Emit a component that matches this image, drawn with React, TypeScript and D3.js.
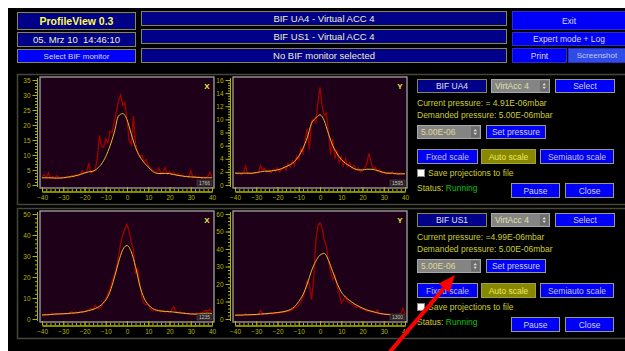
import { useEffect, useRef } from 'react'
import * as d3 from 'd3'

// sample grid of the profiles
const rawX = d3.range(-40, 41, 1)
const fitX = d3.range(-40, 41, 2)

// BIF UA4 - X projection (raw + fit)
const ua4RawX = [
  2.8, 3.4, 2.4, 4.0, 2.2, 2.9, 2.3, 3.1, 2.5, 2.2,
  2.6, 2.4, 2.9, 2.6, 3.2, 2.8, 3.4, 3.0, 3.6, 4.8,
  3.9, 4.2, 7.3, 4.0, 4.5, 5.2, 8.5, 16.5, 13.0, 12.5,
  15.5, 14.0, 18.0, 17.5, 21.0, 24.5, 28.0, 30.0, 26.5, 27.5,
  22.0, 15.0, 13.5, 23.0, 14.0, 11.0, 9.5, 10.0, 7.8, 8.5,
  6.5, 5.8, 5.0, 4.5, 4.2, 5.6, 3.8, 4.4, 5.7, 3.6,
  4.5, 3.5, 4.2, 3.4, 3.8, 3.1, 3.3, 2.7, 3.0, 2.6,
  4.8, 2.5, 3.0, 2.4, 2.8, 2.2, 2.7, 2.4, 2.9, 4.2,
  2.5,
]
const ua4FitX = [
  2.4, 2.4, 2.4, 2.3, 2.3, 2.4, 2.6, 2.8, 3.1, 3.5,
  4.0, 4.4, 4.6, 5.5, 7.0, 9.5, 13.0, 17.5, 23.0, 23.8,
  21.8, 17.0, 12.5, 9.5, 7.5, 6.0, 4.6, 3.9, 3.8, 3.9,
  3.8, 3.5, 3.2, 3.0, 2.8, 2.7, 2.6, 2.5, 2.4, 2.4,
  2.4,
]

// BIF UA4 - Y projection
const ua4RawY = [
  1.9, 1.7, 1.8, 1.6, 1.9, 2.9, 1.7, 1.8, 1.7, 1.9,
  1.8, 1.9, 3.0, 2.2, 2.5, 2.0, 2.3, 1.9, 2.4, 2.1,
  2.6, 2.0, 2.4, 2.8, 2.3, 3.3, 2.7, 3.6, 3.0, 4.4,
  3.8, 5.5, 4.8, 6.8, 8.6, 5.4, 9.8, 10.0, 9.5, 12.4,
  14.9, 12.0, 10.5, 11.0, 8.0, 4.6, 7.0, 4.0, 5.3, 3.4,
  4.3, 3.0, 4.0, 2.8, 3.4, 2.6, 3.0, 2.3, 2.6, 2.0,
  2.2, 2.5, 3.2, 4.8, 3.5, 2.4, 2.7, 2.1, 2.3, 1.8,
  2.0, 1.7, 1.9, 1.8, 2.0, 1.7, 1.9, 1.6, 1.8, 1.7,
  1.8,
]
const ua4FitY = [
  1.8, 1.8, 1.8, 1.8, 1.8, 1.9, 2.0, 2.1, 2.1, 2.2,
  2.3, 2.5, 2.8, 3.1, 3.6, 4.4, 5.6, 7.2, 9.4, 10.2,
  10.7, 9.8, 7.8, 6.0, 4.8, 3.9, 3.3, 2.9, 2.5, 2.3,
  2.3, 2.4, 2.4, 2.3, 2.1, 1.9, 1.8, 1.8, 1.7, 1.7,
  1.7,
]

// BIF US1 - X projection
const us1RawX = [
  2.0, 1.9, 2.2, 2.0, 2.4, 2.8, 2.3, 2.6, 2.4, 2.5,
  2.3, 2.7, 2.5, 3.0, 3.4, 2.8, 3.3, 3.0, 3.6, 3.2,
  3.6, 4.0, 4.4, 5.0, 4.2, 6.6, 5.4, 4.8, 6.0, 8.0,
  9.5, 12.0, 14.5, 18.0, 21.0, 24.0, 30.0, 36.0, 40.0, 43.0,
  45.0, 42.0, 36.5, 33.0, 21.5, 24.0, 17.0, 10.5, 7.5, 6.8,
  7.0, 5.0, 4.0, 4.5, 3.6, 4.2, 3.5, 4.0, 3.3, 3.8,
  3.0, 4.5, 5.8, 3.6, 3.2, 3.4, 2.8, 3.0, 2.5, 2.7,
  2.3, 2.6, 2.4, 2.9, 2.6, 3.0, 3.3, 4.2, 3.7, 4.5,
  3.0,
]
const us1FitX = [
  1.9, 2.0, 2.1, 2.3, 2.4, 2.5, 2.6, 2.8, 2.9, 3.2,
  3.5, 4.0, 4.6, 5.4, 6.8, 9.0, 13.0, 19.5, 27.0, 33.0,
  35.0, 32.0, 25.0, 16.0, 10.0, 6.8, 5.0, 4.2, 3.8, 3.6,
  3.5, 3.3, 3.0, 2.8, 2.6, 2.4, 2.3, 2.4, 2.6, 2.8,
  2.6,
]

// BIF US1 - Y projection
const us1RawY = [
  2.2, 2.0, 2.3, 2.1, 2.4, 3.0, 2.2, 2.5, 2.3, 2.6,
  2.4, 2.8, 5.0, 2.7, 3.0, 2.6, 3.2, 3.4, 2.9, 3.6,
  3.3, 3.5, 4.0, 3.8, 4.4, 4.2, 4.8, 5.2, 6.2, 7.0,
  8.0, 9.5, 12.5, 16.0, 22.0, 20.0, 11.0, 22.0, 44.0, 53.5,
  55.0, 52.0, 45.0, 42.0, 33.0, 27.0, 22.5, 25.0, 19.0, 15.0,
  9.0, 11.0, 13.0, 10.0, 9.0, 8.5, 8.0, 6.5, 7.5, 6.0,
  5.8, 5.5, 4.6, 4.8, 4.0, 4.5, 3.6, 5.2, 3.2, 3.0,
  2.8, 2.6, 2.7, 2.5, 2.7, 2.4, 2.8, 2.5, 3.0, 6.0,
  3.0,
]
const us1FitY = [
  2.2, 2.2, 2.3, 2.4, 2.5, 2.6, 2.8, 3.0, 3.2, 3.4,
  3.7, 4.0, 4.5, 5.4, 7.0, 10.0, 14.0, 20.0, 27.5, 33.0,
  36.5, 37.5, 33.5, 27.0, 20.5, 15.5, 12.5, 10.5, 8.8, 7.4,
  6.2, 5.2, 4.5, 3.8, 3.2, 2.8, 2.6, 2.4, 2.3, 2.2,
  2.2,
]

const xTickValues = [-40, -30, -20, -10, 0, 10, 20, 30, 40]
const plotNames = ['X', 'Y', 'X', 'Y']
const yMaxes = [35, 16, 50, 60]
const yTickSteps = [5, 2, 10, 10]
const sampleCounts = ['1766', '1595', '1235', '1300']

const headerLeft = ['ProfileView 0.3', '05. Mrz 10  14:46:10', 'Select BIF monitor']
const headerMiddle = ['BIF UA4 - Virtual ACC 4', 'BIF US1 - Virtual ACC 4', 'No BIF monitor selected']
const monitors = ['BIF UA4', 'BIF US1']
const currentPressures = ['Current pressure: = 4.91E-06mbar', 'Current pressure: =4.99E-06mbar']
const demandedPressure = 'Demanded pressure: 5.00E-06mbar'
const pressureSetting = '5.00E-06'
const accelerator = 'VirtAcc 4'

const FONT = '"Liberation Sans", Arial, sans-serif'
const NAVY = '#000088'
const BLUE = '#0000f8'
const OLIVE_TXT = '#cccc30'

export default function App() {
  const svgRef = useRef<SVGSVGElement>(null)

  useEffect(() => {
    if (!svgRef.current) return
    const svg = d3.select(svgRef.current)
    svg.selectAll('*').remove()

    svg.append('rect').attr('width', 625).attr('height', 351).attr('fill', '#fff')
    svg.append('rect').attr('x', 8).attr('y', 8).attr('width', 617).attr('height', 343).attr('fill', '#000')

    const box = (
      x: number, y: number, w: number, h: number, fill: string, label: string,
      color: string, size: number, opts: { weight?: string; stroke?: string; anchor?: string } = {}
    ) => {
      svg.append('rect')
        .attr('x', x + 0.5).attr('y', y + 0.5)
        .attr('width', w - 1).attr('height', h - 1)
        .attr('fill', fill)
        .attr('stroke', opts.stroke || '#8a8a3a')
      svg.append('text')
        .attr('x', opts.anchor === 'start' ? x + 4 : x + w / 2)
        .attr('y', y + h / 2)
        .attr('dy', '0.36em')
        .attr('text-anchor', opts.anchor || 'middle')
        .attr('fill', color)
        .attr('font-family', FONT)
        .attr('font-size', size)
        .attr('font-weight', opts.weight || 'normal')
        .style('white-space', 'pre')
        .text(label)
    }

    const dropdown = (x: number, y: number, w: number, h: number, label: string, color: string) => {
      box(x, y, w, h, '#848484', label, color, 8.5, { stroke: '#a8a8a8', anchor: 'start' })
      svg.append('rect').attr('x', x + w - 10).attr('y', y + 1.5).attr('width', 8.5).attr('height', h - 3).attr('fill', '#6c6c6c')
      const cx = x + w - 5.8
      const cy = y + h / 2
      svg.append('path').attr('d', `M${cx - 1.8},${cy - 0.8}L${cx},${cy - 3}L${cx + 1.8},${cy - 0.8}Z M${cx - 1.8},${cy + 0.8}L${cx},${cy + 3}L${cx + 1.8},${cy + 0.8}Z`).attr('fill', '#ddd')
    }

    // header
    box(17, 12, 119, 18, NAVY, headerLeft[0], '#ffff48', 10.5, { weight: 'bold' })
    box(17, 32, 119, 15, NAVY, headerLeft[1], '#f0f0c8', 9.5)
    box(17, 49, 119, 14, BLUE, headerLeft[2], '#d8d8f0', 8)
    headerMiddle.forEach((t, i) => box(141, [11, 29, 48][i], 366, 15, NAVY, t, '#f0f0c8', 9.5))
    box(512, 11, 114, 19, BLUE, 'Exit', '#d8d8f8', 8.5, { stroke: '#3030c0' })
    box(512, 32, 114, 14, BLUE, 'Expert mode + Log', '#d8d8f8', 8.5, { stroke: '#3030c0' })
    box(512, 48, 55, 15, BLUE, 'Print', '#d8d8f8', 8.5, { stroke: '#3030c0' })
    box(568, 48, 58, 15, '#2e4ce8', 'Screenshot', '#c8c8f0', 8, { stroke: '#3030c0' })

    // panels
    ;[74, 208].forEach((py) => {
      svg.append('rect').attr('x', 17.5).attr('y', py + 0.5).attr('width', 620).attr('height', 130)
        .attr('fill', 'none').attr('stroke', '#46463a').attr('stroke-width', 1.5)
    })

    const drawPlot = (i: number, left: number, top: number, raw: number[], fit: number[]) => {
      const w = 174
      const h = 111
      const x = d3.scaleLinear().domain([-40, 40]).range([left + 2, left + w - 2])
      const y = d3.scaleLinear().domain([0, yMaxes[i]]).range([top + h - 3, top + 3])
      const clipId = `clip${i}`
      svg.append('clipPath').attr('id', clipId)
        .append('rect').attr('x', left).attr('y', top).attr('width', w).attr('height', h)

      svg.append('rect').attr('x', left).attr('y', top).attr('width', w).attr('height', h)
        .attr('fill', '#1e0018').attr('stroke', '#a4a4a4').attr('stroke-width', 1.3)

      // y axis
      const major = d3.range(0, yMaxes[i] + 0.001, yTickSteps[i])
      const minor = d3.range(0, yMaxes[i] + 0.001, yTickSteps[i] / 5)
      const ax = left - 2.5
      svg.append('g').attr('transform', `translate(${ax},0)`)
        .call(d3.axisLeft(y).tickValues(minor).tickSize(2.5).tickFormat(() => ''))
        .call((g) => g.select('.domain').remove())
        .attr('color', '#b4b400')
      svg.append('g').attr('transform', `translate(${ax},0)`)
        .call(d3.axisLeft(y).tickValues(major).tickSizeInner(5).tickSizeOuter(0).tickPadding(2))
        .attr('color', '#b4b400')
        .attr('font-family', FONT)
        .attr('font-size', 6.5)
        .call((g) => g.select('.domain').attr('d', `M0,${top + 1}V${top + h - 1}`))

      // x axis
      const xb = top + h + 3.5
      svg.append('g').attr('transform', `translate(0,${xb})`)
        .call(d3.axisBottom(x).tickValues(d3.range(-40, 41, 2)).tickSizeInner(-2.5).tickSizeOuter(0).tickFormat(() => ''))
        .attr('color', '#b4b400')
      svg.append('g').attr('transform', `translate(0,${xb})`)
        .call(d3.axisBottom(x).tickValues(xTickValues).tickSizeInner(-4.5).tickSizeOuter(0).tickPadding(4))
        .attr('color', '#b4b400')
        .attr('font-family', FONT)
        .attr('font-size', 6.5)

      const lineRaw = d3.line<number>().x((_, k) => x(rawX[k])).y((d) => y(d))
      const lineFit = d3.line<number>().x((_, k) => x(fitX[k])).y((d) => y(d)).curve(d3.curveMonotoneX)
      const lines = svg.append('g').attr('clip-path', `url(#${clipId})`)
      lines.append('path').datum(raw).attr('d', lineRaw).attr('fill', 'none')
        .attr('stroke', '#a00000').attr('stroke-width', 1.3)
      lines.append('path').datum(fit).attr('d', lineFit).attr('fill', 'none')
        .attr('stroke', '#e4bc2c').attr('stroke-width', 1)

      svg.append('text').attr('x', left + w - 7).attr('y', top + 12)
        .attr('text-anchor', 'middle').attr('fill', '#e8e840')
        .attr('font-family', FONT).attr('font-size', 8).attr('font-weight', 'bold')
        .text(plotNames[i])

      svg.append('rect').attr('x', left + w - 17).attr('y', top + h - 8).attr('width', 15).attr('height', 6)
        .attr('fill', '#2a2020').attr('stroke', '#5a5a4a').attr('stroke-width', 0.5)
      svg.append('text').attr('x', left + w - 9.5).attr('y', top + h - 3.2)
        .attr('text-anchor', 'middle').attr('fill', '#c8c8c8')
        .attr('font-family', FONT).attr('font-size', 5)
        .text(sampleCounts[i])
    }

    drawPlot(0, 40, 77, ua4RawX, ua4FitX)
    drawPlot(1, 233, 77, ua4RawY, ua4FitY)
    drawPlot(2, 40, 211, us1RawX, us1FitX)
    drawPlot(3, 233, 211, us1RawY, us1FitY)

    // control panels
    ;[0, 1].forEach((p) => {
      const dy = p * 134
      box(417, 79 + dy, 70, 14, NAVY, monitors[p], '#e0e0f0', 8.5)
      dropdown(491, 79 + dy, 59, 14, accelerator, '#e0e0a8')
      box(555, 79 + dy, 60, 14, BLUE, 'Select', '#d0d0f0', 8.5, { stroke: '#9a9a80' })
      ;[currentPressures[p], demandedPressure].forEach((t, k) => {
        svg.append('text').attr('x', 417).attr('y', 106 + k * 12 + dy)
          .attr('fill', OLIVE_TXT).attr('font-family', FONT).attr('font-size', 8.5)
          .text(t)
      })
      dropdown(417, 125 + dy, 64, 14, pressureSetting, '#e0d890')
      box(486, 125 + dy, 60, 14, BLUE, 'Set pressure', '#d0d0f0', 8.5, { stroke: '#9a9a80' })
      box(417, 149 + dy, 61, 15, BLUE, 'Fixed scale', '#c0c0e0', 8.5, { stroke: '#9a9a80' })
      box(481, 149 + dy, 55, 15, '#888800', 'Auto scale', '#e8e860', 8.5, { stroke: '#a0a040' })
      box(540, 149 + dy, 74, 15, BLUE, 'Semiauto scale', '#c0c0e0', 8.5, { stroke: '#9a9a80' })
      svg.append('rect').attr('x', 417.5).attr('y', 169.5 + dy).attr('width', 7).attr('height', 7)
        .attr('fill', '#fff').attr('stroke', '#888')
      svg.append('text').attr('x', 428).attr('y', 176 + dy)
        .attr('fill', OLIVE_TXT).attr('font-family', FONT).attr('font-size', 8.5)
        .text('Save projections to file')
      const st = svg.append('text').attr('x', 417).attr('y', 191 + dy)
        .attr('font-family', FONT).attr('font-size', 8.5)
      st.append('tspan').attr('fill', OLIVE_TXT).text('Status: ')
      st.append('tspan').attr('fill', '#10c010').text('Running')
      box(511, 183 + dy, 49, 15, BLUE, 'Pause', '#d0d0f0', 8.5, { stroke: '#9a9a80' })
      box(565, 183 + dy, 49, 15, BLUE, 'Close', '#d0d0f0', 8.5, { stroke: '#9a9a80' })
    })

    // red annotation arrow
    const tail: [number, number] = [389, 353]
    const tip: [number, number] = [455, 275]
    const dx = tip[0] - tail[0]
    const dyA = tip[1] - tail[1]
    const len = Math.hypot(dx, dyA)
    const ux = dx / len
    const uy = dyA / len
    const bx = tip[0] - ux * 17
    const by = tip[1] - uy * 17
    svg.append('line').attr('x1', tail[0]).attr('y1', tail[1]).attr('x2', bx + ux * 2).attr('y2', by + uy * 2)
      .attr('stroke', '#ff0000').attr('stroke-width', 4)
    svg.append('path')
      .attr('d', `M${tip[0]},${tip[1]}L${bx - uy * 7},${by + ux * 7}L${bx + uy * 7},${by - ux * 7}Z`)
      .attr('fill', '#ff0000')
  }, [])

  return (
    <svg
      ref={svgRef}
      width={625}
      height={351}
      style={{ position: 'absolute', left: 0, top: 0, display: 'block' }}
    />
  )
}
